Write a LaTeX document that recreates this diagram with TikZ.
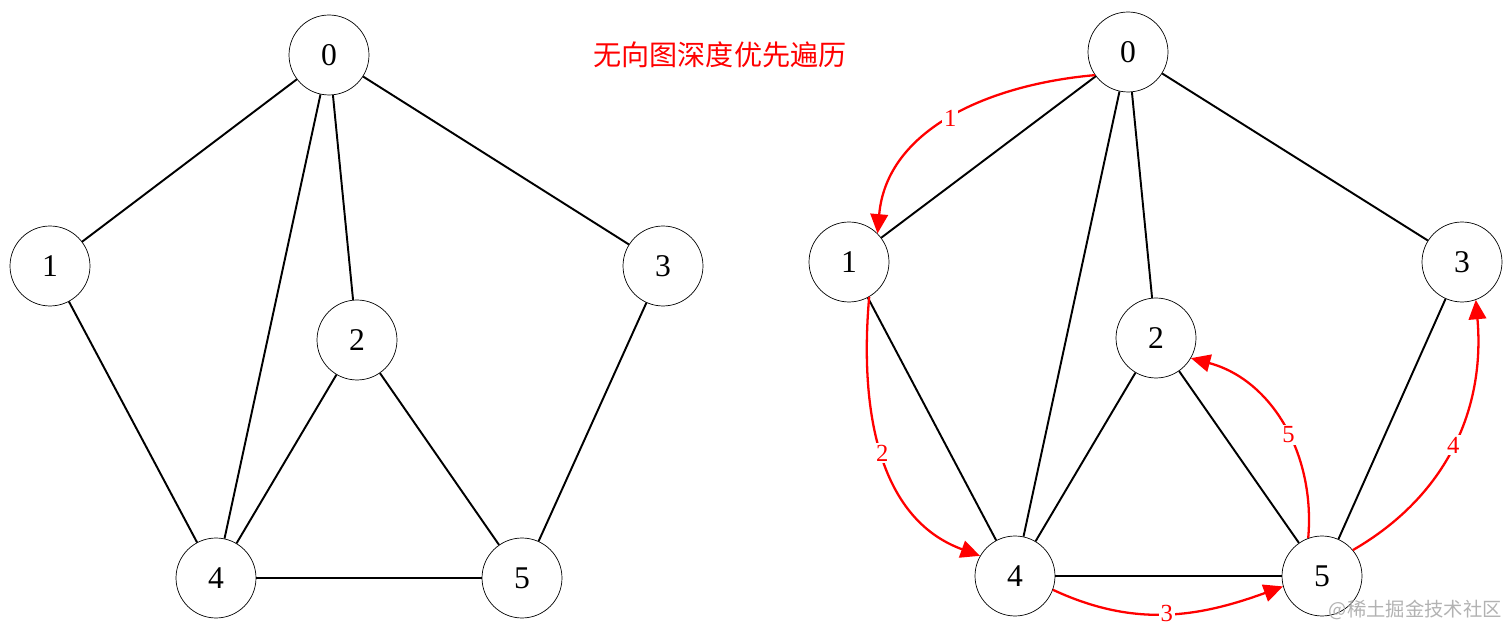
\documentclass[tikz,border=0pt]{standalone}
\usepackage{fontspec}
\setmainfont{Liberation Serif}
\newfontfamily\cjk{Noto Sans CJK SC}
\usetikzlibrary{arrows.meta}
\begin{document}
\begin{tikzpicture}[x=0.02cm,y=-0.02cm,
  vtx/.style={circle,draw,thin,minimum size=1.6cm,inner sep=0pt,font=\fontsize{18}{20}\selectfont},
  edge/.style={line width=1.1pt},
  trav/.style={red,line width=1.3pt,-{Triangle[length=11pt,width=10pt]}},
  lab/.style={fill=white,inner sep=1pt,text=red,font=\fontsize{14}{16}\selectfont}]
\useasboundingbox (0,0) rectangle (1512,641);
% left graph
\node[vtx] (a0) at (329,55) {0};
\node[vtx] (a1) at (50,266) {1};
\node[vtx] (a3) at (663,266) {3};
\node[vtx] (a2) at (357,340) {2};
\node[vtx] (a4) at (216,578) {4};
\node[vtx] (a5) at (522,578) {5};
\foreach \u/\v in {a0/a1,a0/a3,a0/a2,a0/a4,a1/a4,a2/a4,a2/a5,a3/a5,a4/a5}
  \draw[edge] (\u) -- (\v);
% right graph
\node[vtx] (b0) at (1128,52) {0};
\node[vtx] (b1) at (849,262) {1};
\node[vtx] (b3) at (1462,262) {3};
\node[vtx] (b2) at (1156,338) {2};
\node[vtx] (b4) at (1015,576) {4};
\node[vtx] (b5) at (1322,576) {5};
\foreach \u/\v in {b0/b1,b0/b3,b0/b2,b0/b4,b1/b4,b2/b4,b2/b5,b3/b5,b4/b5}
  \draw[edge] (\u) -- (\v);
% traversal
\draw[trav] (b0.215) to[out=185,in=85] node[lab,pos=0.5]{1} (b1.45);
\draw[trav] (b1.300) to[out=265,in=160] node[lab,pos=0.5]{2} (b4.150);
\draw[trav] (b4.340) to[out=-25,in=200] node[lab,pos=0.5]{3} (b5.195);
\draw[trav] (b5.40) to[out=30,in=-85] node[lab,pos=0.5]{4} (b3.290);
\draw[trav] (b5.110) to[out=85,in=-15] node[lab,pos=0.45]{5} (b2.330);
\node[text=red,font=\cjk\fontsize{16}{18}\selectfont] (title) at (720,55) {无向图深度优先遍历};
\node[text=gray!60,font=\cjk\fontsize{11}{12}\selectfont,anchor=east] (wm) at (1508,610) {@稀土掘金技术社区};
\end{tikzpicture}
\end{document}
